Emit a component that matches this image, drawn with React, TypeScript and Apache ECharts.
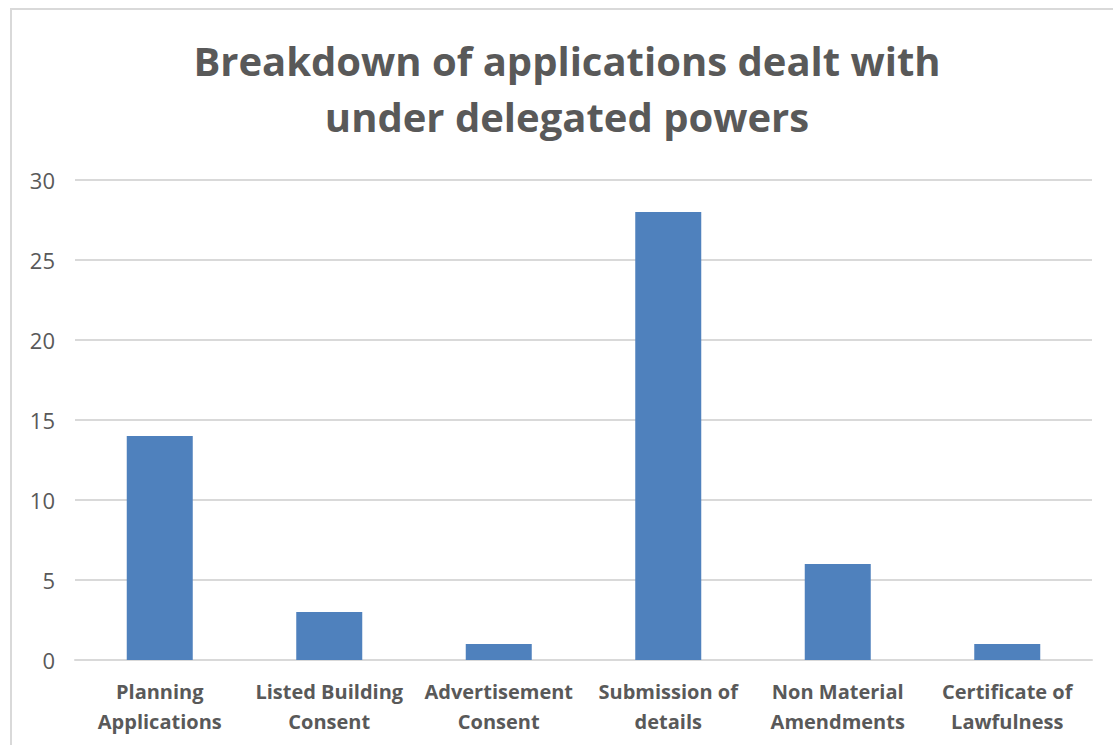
import React, { useEffect, useRef } from "react";
import * as echarts from "echarts";

const categories = [
  "Planning\nApplications",
  "Listed Building\nConsent",
  "Advertisement\nConsent",
  "Submission of\ndetails",
  "Non Material\nAmendments",
  "Certificate of\nLawfulness",
];
const counts = [14, 3, 1, 28, 6, 1];
const titleText = "Breakdown of applications dealt with\nunder delegated powers";

const FONT = "'Open Sans', Lato, sans-serif";
const GREY = "#595959";

export default function App() {
  const ref = useRef<HTMLDivElement>(null);

  useEffect(() => {
    if (!ref.current) return;
    const chart = echarts.init(ref.current, null, { renderer: "svg" });
    chart.setOption({
      animation: false,
      backgroundColor: "#ffffff",
      title: {
        text: titleText,
        left: 562,
        top: 27,
        textAlign: "center",
        textStyle: {
          fontFamily: FONT,
          fontWeight: "bold",
          fontSize: 40,
          lineHeight: 56,
          color: GREY,
        },
      },
      graphic: [
        {
          type: "rect",
          shape: { x: 11, y: 9, width: 1200, height: 800 },
          style: { fill: "none", stroke: "#d9d9d9", lineWidth: 2 },
          silent: true,
        },
      ],
      grid: { left: 75, right: 21, top: 180, bottom: 85, containLabel: false },
      xAxis: {
        type: "category",
        data: categories,
        axisLine: { show: true, lineStyle: { color: "#d9d9d9", width: 2 } },
        axisTick: { show: false },
        axisLabel: {
          interval: 0,
          margin: 16,
          fontFamily: FONT,
          fontWeight: "bold",
          fontSize: 20,
          lineHeight: 30,
          color: GREY,
        },
      },
      yAxis: {
        type: "value",
        min: 0,
        max: 30,
        interval: 5,
        axisLine: { show: false },
        axisTick: { show: false },
        splitLine: { lineStyle: { color: "#d9d9d9", width: 2 } },
        axisLabel: {
          margin: 20,
          fontFamily: FONT,
          fontSize: 22,
          color: GREY,
        },
      },
      series: [
        {
          type: "bar",
          data: counts,
          barWidth: 66,
          itemStyle: { color: "#4f81bd" },
        },
      ],
    });
    return () => chart.dispose();
  }, []);

  return (
    <div
      ref={ref}
      style={{ position: "absolute", left: 0, top: 0, width: 1113, height: 745 }}
    />
  );
}
